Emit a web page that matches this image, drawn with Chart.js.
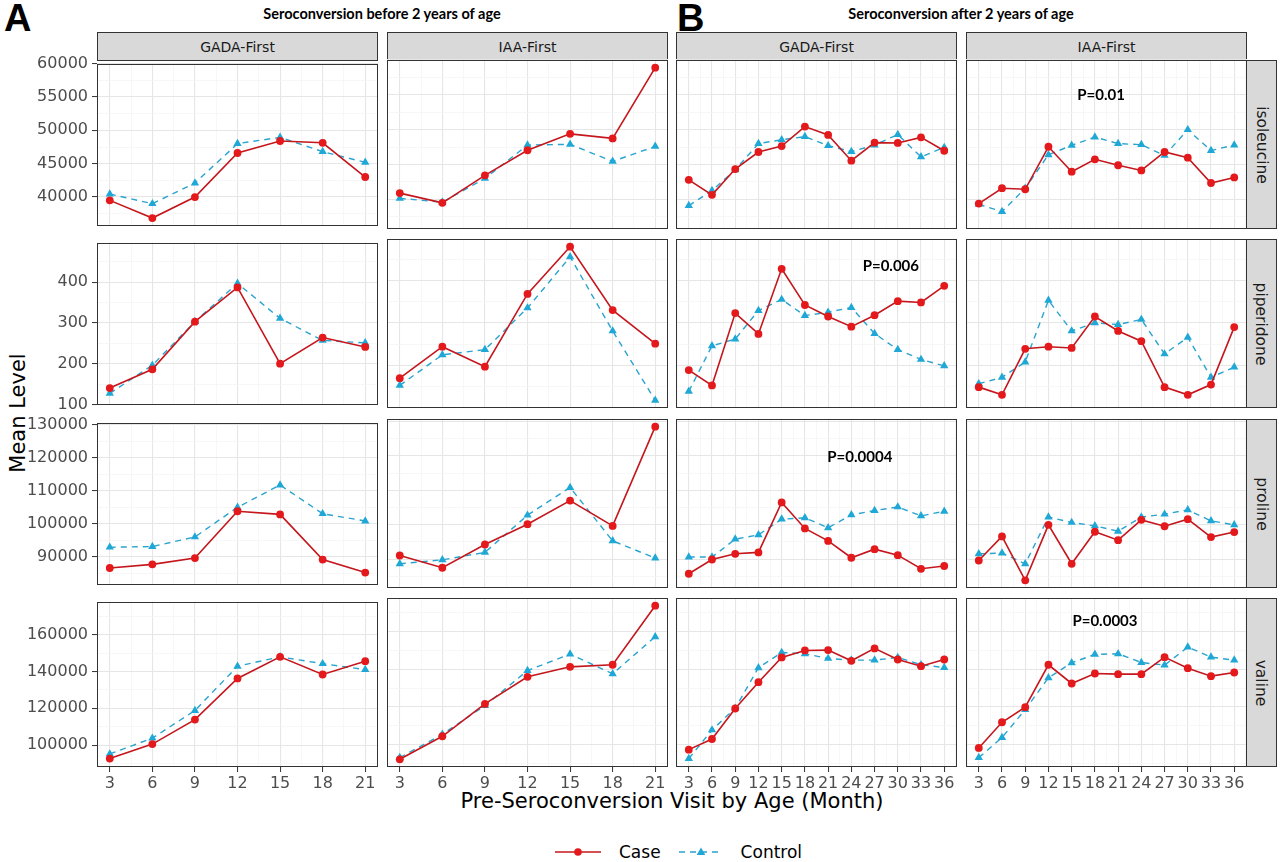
<!DOCTYPE html>
<html>
<head>
<meta charset="utf-8">
<script src="https://cdn.jsdelivr.net/npm/chart.js@4.4.1/dist/chart.umd.min.js"></script>
<style>
  body { margin: 0; width: 1280px; height: 862px; background: #fff; position: relative; overflow: hidden; font-family: 'DejaVu Sans', sans-serif; }
  .panel { position: absolute; }
  .strip { position: absolute; background: #d9d9d9; border: 1px solid #333; box-sizing: border-box; display: flex; align-items: center; justify-content: center; font-size: 14px; color: #1a1a1a; }
  .strip.side span { transform: rotate(90deg); white-space: nowrap; font-size: 15.5px; }
  .title { position: absolute; font-family: Lato, sans-serif; font-weight: bold; font-size: 14.5px; color: #000; transform: translateX(-50%); white-space: nowrap; }
  .tag { position: absolute; font-family: 'Liberation Sans', sans-serif; font-weight: bold; font-size: 38px; line-height: 1; }
  .axtitle { position: absolute; font-size: 21px; color: #000; white-space: nowrap; }
  .legend { position: absolute; top: 842px; left: 553px; display: flex; align-items: center; font-size: 17px; color: #000; }
</style>
</head>
<body>
<div class="tag" style="left:4px; top:-1px;">A</div>
<div class="tag" style="left:677px; top:-1px;">B</div>
<div class="title" style="left:382px; top:5px;">Seroconversion before 2 years of age</div>
<div class="title" style="left:961px; top:5px;">Seroconversion after 2 years of age</div>
<div class="axtitle" style="left:672px; top:789px; transform:translateX(-50%);">Pre-Seroconversion Visit by Age (Month)</div>
<div class="axtitle" style="left:18px; top:413px; transform:translate(-50%,-50%) rotate(-90deg);">Mean Level</div>
<div class="legend">
  <svg width="50" height="20"><line x1="2" y1="10" x2="48" y2="10" stroke="#c4161c" stroke-width="1.6"/><circle cx="25" cy="10" r="3.8" fill="#e3191c"/></svg>
  <span style="margin:0 16px 0 16px;">Case</span>
  <svg width="48" height="20"><line x1="2" y1="10" x2="46" y2="10" stroke="#2aa3cf" stroke-width="1.4" stroke-dasharray="6 5"/><path d="M24 5.5 L28.3 13 L19.7 13 Z" fill="#1fa8d6"/></svg>
  <span style="margin-left:16px;">Control</span>
</div>
<div id="root"></div>
<script>
// x values (months before seroconversion visit)
const monthsEarly = [3, 6, 9, 12, 15, 18, 21];
const monthsLate = [3, 6, 9, 12, 15, 18, 21, 24, 27, 30, 33, 36];

const groups = ['GADA-First', 'IAA-First', 'GADA-First', 'IAA-First'];
const metabolites = ['isoleucine', 'piperidone', 'proline', 'valine'];

// each array: [GADA before 2y, IAA before 2y, GADA after 2y, IAA after 2y]
const isoleucineCase = [
  [39500, 36850, 40000, 46600, 48400, 48130, 43000],
  [40900, 39500, 43450, 47050, 49400, 48750, 58900],
  [42800, 40650, 44350, 46800, 47650, 50450, 49250, 45550, 48150, 48100, 48900, 46980],
  [39400, 41600, 41450, 47550, 43970, 45750, 44900, 44150, 46800, 45980, 42350, 43150]
];
const isoleucineControl = [
  [40450, 39000, 42100, 48000, 48950, 46800, 45200],
  [40150, 39600, 43000, 47800, 47900, 45450, 47600],
  [39100, 41250, 44250, 48000, 48550, 49000, 47700, 46850, 47800, 49300, 46100, 47450],
  [39300, 38250, 41600, 46400, 47750, 48950, 48000, 47850, 46300, 50000, 47000, 47800]
];
const piperidoneCase = [
  [140, 186, 303, 387, 200, 264, 241],
  [170, 244, 197, 368, 479, 330, 251],
  [189, 153, 323, 274, 427, 342, 315, 291, 318, 351, 348, 387],
  [149, 131, 239, 244, 241, 315, 281, 257, 149, 131, 155, 290]
];
const piperidoneControl = [
  [127, 196, 303, 397, 311, 257, 251],
  [153, 225, 237, 335, 455, 281, 118],
  [139, 246, 262, 329, 355, 317, 325, 336, 275, 237, 214, 199],
  [157, 172, 208, 353, 281, 300, 296, 308, 227, 266, 172, 196]
];
const prolineCase = [
  [86600, 87700, 89600, 103800, 102850, 89150, 85200],
  [91050, 87500, 94250, 100150, 107000, 99650, 128450],
  [85750, 89900, 91550, 91950, 106450, 98900, 95300, 90400, 92900, 91150, 87200, 88000],
  [89600, 96600, 83850, 99950, 88650, 97950, 95500, 101400, 99550, 101600, 96400, 97850]
];
const prolineControl = [
  [92900, 93100, 96000, 105000, 111750, 103050, 100850],
  [88650, 89800, 91950, 102750, 110800, 95300, 90300],
  [90600, 90600, 95800, 97050, 101600, 102000, 99100, 102850, 104100, 105150, 102550, 103900],
  [91550, 91750, 88650, 102200, 100650, 99650, 98100, 102200, 103050, 104300, 101100, 99950]
];
const valineCase = [
  [92700, 100550, 113850, 136200, 147950, 138350, 145600],
  [92200, 104450, 121650, 136050, 141350, 142450, 173850],
  [97350, 103000, 119200, 133200, 146350, 150050, 150250, 144550, 151150, 145250, 141700, 145250],
  [98250, 111900, 119900, 142450, 132500, 137800, 137450, 137450, 146500, 140650, 136400, 138350]
];
const valineControl = [
  [95200, 103750, 118800, 142800, 147950, 144200, 141000],
  [93100, 105500, 120750, 139400, 148100, 137650, 157350],
  [92550, 107800, 119350, 140850, 149000, 148300, 145800, 144900, 144900, 146350, 142450, 141000],
  [93100, 103750, 118650, 135500, 143500, 147950, 148300, 143650, 142250, 151850, 146500, 144900]
];

// y tick labels per row
const isoleucineTicks = [40000, 45000, 50000, 55000, 60000];
const piperidoneTicks = [100, 200, 300, 400];
const prolineTicks = [90000, 100000, 110000, 120000, 130000];
const valineTicks = [100000, 120000, 140000, 160000];

const pValues = [
  { row: 0, col: 3, x: 18.8, y: 55000, text: 'P=0.01' },
  { row: 1, col: 2, x: 29.1, y: 434, text: 'P=0.006' },
  { row: 2, col: 2, x: 25.1, y: 119600, text: 'P=0.0004' },
  { row: 3, col: 3, x: 19.3, y: 165800, text: 'P=0.0003' }
];

const rows = [
  { name: metabolites[0], cases: isoleucineCase, controls: isoleucineControl, ticks: isoleucineTicks },
  { name: metabolites[1], cases: piperidoneCase, controls: piperidoneControl, ticks: piperidoneTicks },
  { name: metabolites[2], cases: prolineCase, controls: prolineControl, ticks: prolineTicks },
  { name: metabolites[3], cases: valineCase, controls: valineControl, ticks: valineTicks }
];

// layout
const colLeft = [97, 387, 676, 966];
const rowTop = [60, 239, 419, 598];
const PW = 281, PH = 169;
const M = 10;
const root = document.getElementById('root');

function addDiv(cls, style, html) {
  const d = document.createElement('div');
  d.className = cls;
  Object.assign(d.style, style);
  d.innerHTML = html;
  root.appendChild(d);
}

groups.forEach((g, c) => {
  addDiv('strip', { left: colLeft[c] + 'px', top: '32px', width: PW + 'px', height: '29px' }, g);
});
rows.forEach((r, i) => {
  addDiv('strip side', { left: (colLeft[3] + PW - 1) + 'px', top: rowTop[i] + 'px', width: '31px', height: PH + 'px' }, '<span>' + r.name + '</span>');
});

// ggplot-like major + minor breaks
function buildTicks(majors, lo, hi) {
  const step = majors[1] - majors[0];
  const list = [];
  if (majors[0] - step / 2 >= lo) list.push({ value: majors[0] - step / 2, minor: true });
  majors.forEach(v => {
    list.push({ value: v, minor: false });
    list.push({ value: v + step / 2, minor: true });
  });
  return list.filter(t => t.value >= lo && t.value <= hi);
}

const panelFrame = {
  id: 'panelFrame',
  afterDatasetsDraw(chart, args, opts) {
    const { ctx, chartArea: a } = chart;
    ctx.save();
    if (opts.note) {
      ctx.font = 'bold 15px Lato';
      ctx.fillStyle = '#000';
      ctx.textAlign = 'center';
      ctx.textBaseline = 'middle';
      ctx.fillText(opts.note.text, chart.scales.x.getPixelForValue(opts.note.x), chart.scales.y.getPixelForValue(opts.note.y));
    }
    ctx.strokeStyle = '#333';
    ctx.lineWidth = 1;
    ctx.strokeRect(Math.round(a.left) + 0.5, Math.round(a.top) + 0.5, Math.round(a.right - a.left) - 1, Math.round(a.bottom - a.top) - 1);
    ctx.restore();
  }
};

const gridOpts = show => ({
  color: c => (c.tick && c.tick.minor ? '#f3f3f3' : '#e6e6e6'),
  lineWidth: c => (c.tick && c.tick.minor ? 0.7 : 1.1),
  drawTicks: show,
  tickLength: 5,
  tickColor: c => (c.tick && c.tick.minor ? 'rgba(0,0,0,0)' : '#333'),
  tickWidth: 1
});

rows.forEach((r, ri) => {
  const all = r.cases.flat().concat(r.controls.flat());
  const lo = Math.min(...all), hi = Math.max(...all);
  const yMin = lo - (hi - lo) * 0.05, yMax = hi + (hi - lo) * 0.05;

  for (let c = 0; c < 4; c++) {
    const months = c < 2 ? monthsEarly : monthsLate;
    const xMin = months[0] - (months[months.length - 1] - months[0]) * 0.05;
    const xMax = months[months.length - 1] + (months[months.length - 1] - months[0]) * 0.05;
    const showY = c === 0, showX = ri === 3;
    const padL = showY ? 97 : 0, padB = showX ? 30 : 0;

    const wrap = document.createElement('div');
    wrap.className = 'panel';
    wrap.style.left = (colLeft[c] - padL - M) + 'px';
    wrap.style.top = (rowTop[ri] - M) + 'px';
    const cv = document.createElement('canvas');
    cv.width = PW + padL + 2 * M;
    cv.height = PH + padB + 2 * M;
    cv.style.width = cv.width + 'px';
    cv.style.height = cv.height + 'px';
    wrap.appendChild(cv);
    root.appendChild(wrap);

    const note = pValues.find(p => p.row === ri && p.col === c);

    new Chart(cv, {
      type: 'line',
      data: {
        datasets: [
          {
            label: 'Case',
            data: months.map((m, i) => ({ x: m, y: r.cases[c][i] })),
            borderColor: '#c4161c',
            borderWidth: 1.6,
            pointStyle: 'circle',
            pointRadius: 3.9,
            pointBackgroundColor: '#e3191c',
            pointBorderColor: '#e3191c',
            pointBorderWidth: 0,
            tension: 0
          },
          {
            label: 'Control',
            data: months.map((m, i) => ({ x: m, y: r.controls[c][i] })),
            borderColor: '#2aa3cf',
            borderWidth: 1.4,
            borderDash: [6, 5],
            pointStyle: 'triangle',
            pointRadius: 4.8,
            pointBackgroundColor: '#1fa8d6',
            pointBorderColor: '#1fa8d6',
            pointBorderWidth: 0,
            tension: 0
          }
        ]
      },
      options: {
        responsive: false,
        animation: false,
        layout: { padding: M },
        plugins: {
          legend: { display: false },
          tooltip: { enabled: false },
          panelFrame: { note: note }
        },
        scales: {
          x: {
            type: 'linear',
            min: xMin,
            max: xMax,
            afterBuildTicks: axis => { axis.ticks = buildTicks(months, xMin, xMax); },
            afterFit: axis => { axis.height = padB; },
            grid: gridOpts(showX),
            border: { display: false },
            ticks: {
              display: showX,
              autoSkip: false,
              maxRotation: 0,
              minRotation: 0,
              padding: 2,
              color: '#4d4d4d',
              font: { family: 'DejaVu Sans', size: 16 },
              callback: (v, i, t) => (t[i].minor ? '' : String(v))
            }
          },
          y: {
            type: 'linear',
            min: yMin,
            max: yMax,
            afterBuildTicks: axis => { axis.ticks = buildTicks(r.ticks, yMin, yMax); },
            afterFit: axis => { axis.width = padL; },
            grid: gridOpts(showY),
            border: { display: false },
            ticks: {
              display: showY,
              autoSkip: false,
              padding: 4,
              color: '#4d4d4d',
              font: { family: 'DejaVu Sans', size: 16 },
              callback: (v, i, t) => (t[i].minor ? '' : String(v))
            }
          }
        }
      },
      plugins: [panelFrame]
    });
  }
});
</script>
</body>
</html>
